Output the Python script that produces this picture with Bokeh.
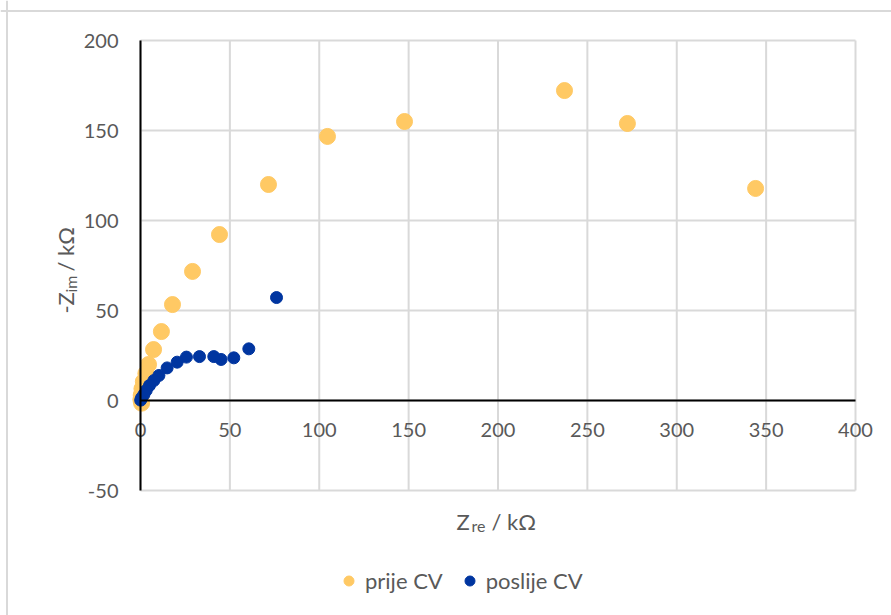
import math
from bokeh.plotting import figure
from bokeh.models import (Range1d, LinearAxis, Label, Legend, LegendItem,
                          FixedTicker, Span, PrintfTickFormatter)
from bokeh.embed import file_html
from bokeh.resources import INLINE

# ---- data (kOhm) ----
prije_x = [344.1, 272.4, 237.2, 147.7, 104.6, 71.6, 44.2, 29.1, 17.9, 11.7, 7.3, 4.5, 3.0, 1.6, 0.8, 0.4, 0.2, 0.6]
prije_y = [117.8, 153.9, 172.2, 155.0, 146.7, 120.0, 92.2, 71.7, 53.3, 38.3, 28.3, 20.0, 15.0, 10.5, 6.5, 3.0, 0.5, -1.5]

poslije_x = [76.1, 60.6, 52.2, 45.1, 41.0, 33.0, 25.7, 20.5, 14.9, 10.3, 7.5, 5.0, 3.2, 1.9, 0.6, 0.1]
poslije_y = [57.2, 28.7, 23.7, 22.8, 24.4, 24.4, 24.1, 21.3, 18.1, 13.9, 11.1, 8.3, 5.6, 3.3, 1.5, 0.2]

series_names = ["prije CV", "poslije CV"]
x_ticks = [0, 50, 100, 150, 200, 250, 300, 350, 400]
y_ticks = [-50, 0, 50, 100, 150, 200]

FONT = "Lato"
TXT = "#595959"
ORANGE = "#FFC964"
BLUE = "#0035A0"
GRID = "#D9D9D9"

W, H = 891, 615
# plot area: x 0..400 -> px 140..855 ; y -50..200 -> px 490..40
sx = (855 - 140) / 400.0
sy = (490 - 40) / 250.0
x0 = -140 / sx
x1 = x0 + W / sx
y1 = 400 / sy
y0 = y1 - H / sy

p = figure(width=W, height=H,
           x_range=Range1d(x0, x1), y_range=Range1d(y0, y1),
           x_axis_type=None, y_axis_type=None,
           output_backend="svg", toolbar_location=None,
           min_border=0)
p.outline_line_color = None
p.background_fill_color = "white"
p.border_fill_color = "white"

# gridlines limited to the plot area
ymin, ymax = min(y_ticks), max(y_ticks)
xmin, xmax = min(x_ticks), max(x_ticks)
p.multi_line(xs=[[t, t] for t in x_ticks], ys=[[ymin, ymax] for _ in x_ticks],
             line_color=GRID, line_width=2)
p.multi_line(xs=[[xmin, xmax] for _ in y_ticks], ys=[[t, t] for t in y_ticks],
             line_color=GRID, line_width=2)

# chart-area border (top and left)
p.add_layout(Span(location=y1 - 10.5 / sy, dimension="width",
                  line_color=GRID, line_width=2))
p.add_layout(Span(location=x0 + 6.5 / sx, dimension="height",
                  line_color=GRID, line_width=2))

xt = FixedTicker(ticks=x_ticks)
yt = FixedTicker(ticks=y_ticks)
xaxis = LinearAxis(ticker=xt, fixed_location=0, bounds=(xmin, xmax))
yaxis = LinearAxis(ticker=yt, fixed_location=0, bounds=(ymin, ymax))
for ax in (xaxis, yaxis):
    ax.formatter = PrintfTickFormatter(format="%d")
    ax.axis_line_color = "black"
    ax.axis_line_width = 2
    ax.major_tick_out = 0
    ax.major_tick_in = 0
    ax.minor_tick_out = 0
    ax.minor_tick_in = 0
    ax.major_label_standoff = 22
    ax.major_label_text_font = FONT
    ax.major_label_text_font_size = "20px"
    ax.major_label_text_color = TXT
p.add_layout(xaxis, "below")
p.add_layout(yaxis, "left")

r1 = p.scatter(prije_x, prije_y, size=16, fill_color=ORANGE, line_color=ORANGE)
r2 = p.scatter(poslije_x, poslije_y, size=12, fill_color=BLUE, line_color=BLUE)

legend = Legend(items=[LegendItem(label=series_names[0], renderers=[r1]),
                       LegendItem(label=series_names[1], renderers=[r2])],
                orientation="horizontal", location=(336, 21),
                border_line_color=None, background_fill_alpha=0,
                label_text_font=FONT, label_text_font_size="22px",
                label_text_color=TXT, glyph_width=25, glyph_height=25,
                label_standoff=4, spacing=14, padding=0, margin=0)
p.add_layout(legend)


def px2x(px):
    return x0 + px / sx


def px2y(py):
    return y1 - py / sy


def lab(px, py, t, size, angle=0):
    p.add_layout(Label(x=px2x(px), y=px2y(py), text=t, text_font=FONT,
                       text_font_size=size, text_color=TXT,
                       text_baseline="alphabetic", text_align="left",
                       angle=angle))


# x axis title: Z_re / kΩ
lab(456, 521, "Z", "22px")
lab(471, 525, "re", "16px")
lab(491, 521, "/ kΩ", "22px")

# y axis title: -Z_im / kΩ
lab(65, 313, "-Z", "22px", math.pi / 2)
lab(70, 292, "im", "16px", math.pi / 2)
lab(65, 271, "/ kΩ", "22px", math.pi / 2)

open("out.html", "w").write(file_html(p, INLINE))
